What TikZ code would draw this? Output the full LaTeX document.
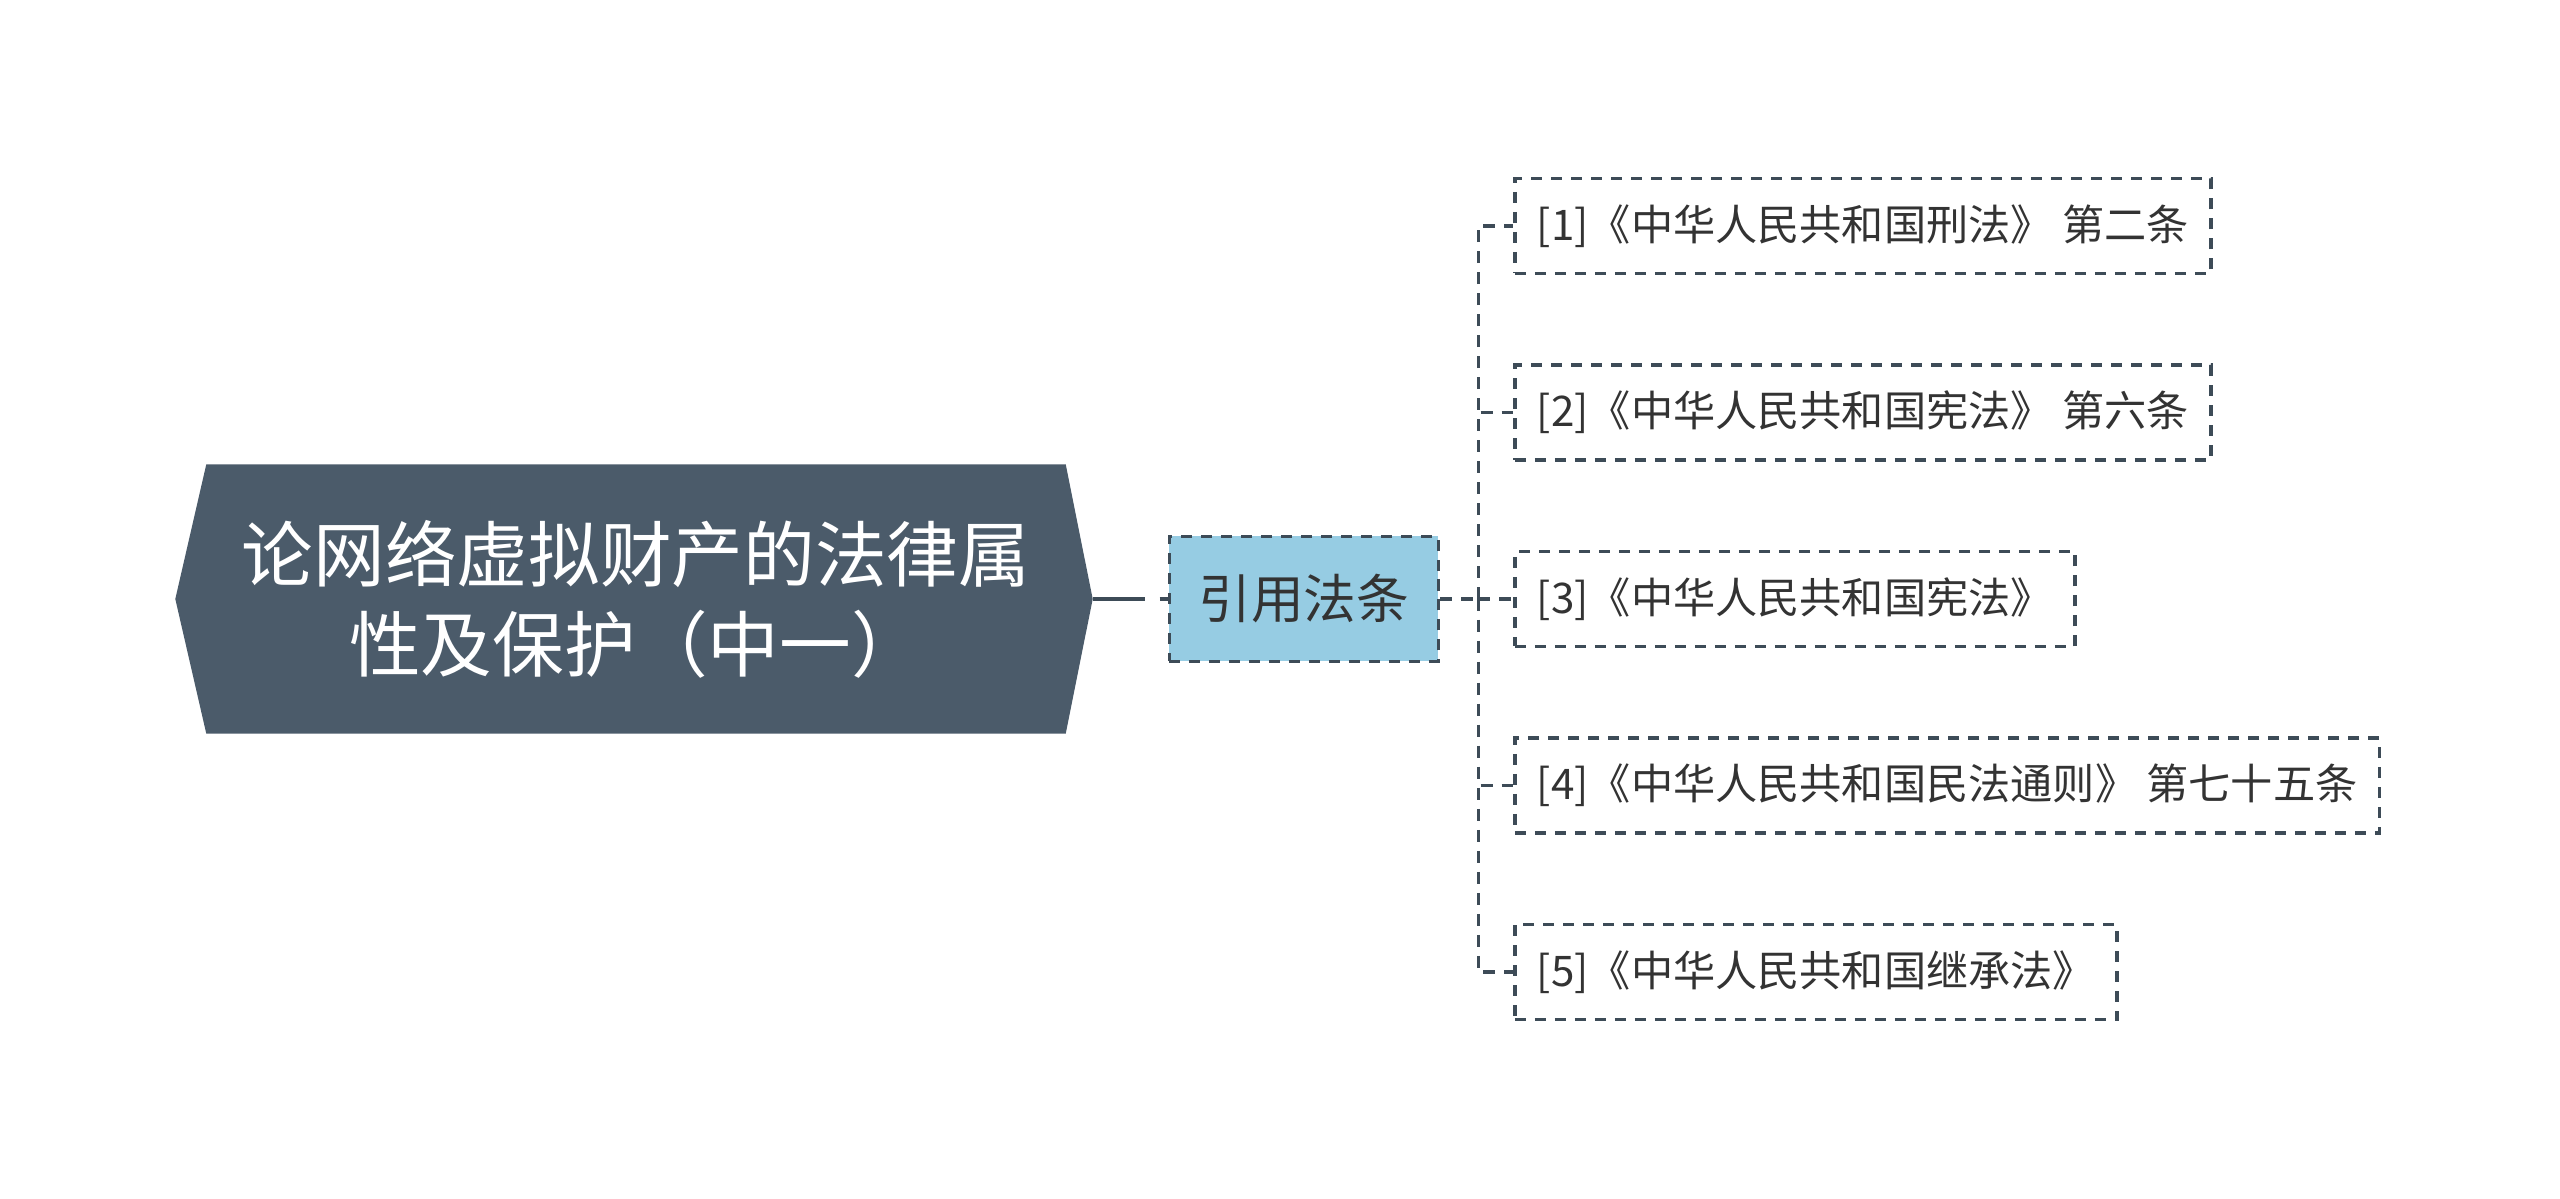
\documentclass[tikz,border=0pt]{standalone}
\usepackage{fontspec}
\newfontfamily\cjk{Noto Sans CJK SC}
\usepackage{tikz}
\usetikzlibrary{positioning,backgrounds}
\usepackage{xcolor}
\definecolor{mmslate}{RGB}{75,91,106}
\definecolor{mmblue}{RGB}{150,204,227}
\definecolor{mmline}{RGB}{61,75,87}
\definecolor{mmtext}{RGB}{51,51,51}
\tikzstyle{rootbox} = [rectangle, minimum width=8.58cm, minimum height=2.68cm, align=center, text=white, font=\cjk\fontsize{20.4}{25.6}\selectfont]
\tikzstyle{topicbox} = [rectangle, minimum width=2.69cm, minimum height=1.25cm, draw=mmline, fill=mmblue, line width=1pt, dash pattern=on 0.11cm off 0.09cm, text=mmtext, font=\cjk\fontsize{15}{18}\selectfont]
\tikzstyle{lawbox} = [rectangle, minimum height=0.95cm, inner xsep=0.22cm, draw=mmline, line width=1pt, dash pattern=on 0.11cm off 0.09cm, text=mmtext, font=\cjk\fontsize{12}{14}\selectfont]
\tikzstyle{rootline} = [mmline, line width=1.4pt, dash pattern=on 0.52cm off 0.15cm]
\tikzstyle{branch} = [mmline, line width=0.9pt, dash pattern=on 0.12cm off 0.09cm]
\begin{document}
\begin{tikzpicture}[node distance=0.88cm]
\useasboundingbox (0,0) rectangle (25.6,-11.99);
\node[rootbox] (root) at (6.36,-5.99) {论网络虚拟财产的法律属\\性及保护（中一）};
\begin{scope}[on background layer]
\fill[mmslate] (root.north west) -- (root.north east) -- ([xshift=0.27cm]root.east) -- (root.south east) -- (root.south west) -- ([xshift=-0.31cm]root.west) -- cycle;
\end{scope}
\node[topicbox, right=1.02cm of root] (cite) {引用法条};

\node[lawbox, right=0.73cm of cite] (law3) {[3]《中华人民共和国宪法》};
\node[lawbox, above=0.88cm of law3.north west, anchor=south west] (law2) {[2]《中华人民共和国宪法》 第六条};
\node[lawbox, above=0.88cm of law2.north west, anchor=south west] (law1) {[1]《中华人民共和国刑法》 第二条};
\node[lawbox, below=0.88cm of law3.south west, anchor=north west] (law4) {[4]《中华人民共和国民法通则》 第七十五条};
\node[lawbox, below=0.88cm of law4.south west, anchor=north west] (law5) {[5]《中华人民共和国继承法》};

\draw[rootline] ([xshift=0.27cm]root.east) -- (cite.west);
\draw[branch] (cite.east) -- ++(0.38,0) coordinate (fork);
\draw[branch] (fork) -- (law3.west);
\foreach \n in {law1,law2,law4,law5}
  \draw[branch] (fork) |- (\n.west);
\end{tikzpicture}
\end{document}
